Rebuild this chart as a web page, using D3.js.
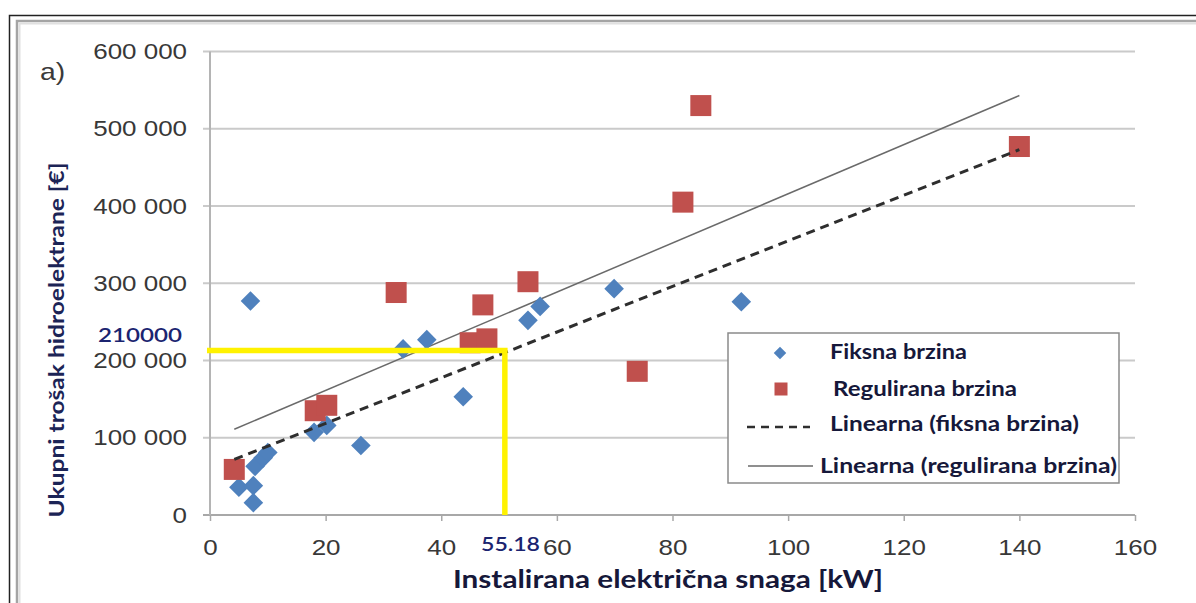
<!DOCTYPE html>
<html>
<head>
<meta charset="utf-8">
<script src="https://cdn.jsdelivr.net/npm/d3@7"></script>
<style>
  body { margin: 0; background: #fff; }
  svg { display: block; }
</style>
</head>
<body>
<svg width="1196" height="603"></svg>
<script>
// Fiksna brzina (blue diamonds)
const fixedKW = [7, 5, 7.5, 7.5, 7.8, 9.2, 10, 18, 20.2, 26.1, 33.4, 37.5, 43.8, 55, 57.1, 69.9, 91.9];
const fixedCost = [277000, 36000, 38000, 16000, 63000, 74000, 81000, 107000, 116000, 90000, 215000, 227000, 153000, 252000, 270000, 293000, 276000];
// Regulirana brzina (red squares)
const regKW = [4.2, 18.2, 20.2, 32.2, 45, 47.2, 47.9, 55, 73.9, 81.8, 84.9, 140];
const regCost = [59000, 135000, 142000, 288000, 223000, 272000, 228000, 302000, 186000, 405000, 530000, 477000];
// trend lines, end points
const trendFixedKW = [4.2, 140], trendFixedCost = [72000, 473000];
const trendRegKW = [4.2, 140], trendRegCost = [111000, 543000];
// yellow read-off marker
const markKW = 51, markCost = 213000;
const markLabels = ["55.18", "210000"];
const xTicks = [0, 20, 40, 60, 80, 100, 120, 140, 160];
const yTicks = [0, 100000, 200000, 300000, 400000, 500000, 600000];
const legendLabels = ["Fiksna brzina", "Regulirana brzina", "Linearna (fiksna brzina)", "Linearna (regulirana brzina)"];

const svg = d3.select("svg");
const SX = 1.18; // source picture is stretched sideways
const blue = "#4f81bd", red = "#c0504d", ink = "#16183a";

// frame
svg.append("rect").attr("x", 9.5).attr("y", 15.5).attr("width", 1300).attr("height", 700)
  .attr("fill", "none").attr("stroke", "#222").attr("stroke-width", 1.5);
svg.append("rect").attr("x", 17).attr("y", 21).attr("width", 1300).attr("height", 700)
  .attr("fill", "none").attr("stroke", "#a4a4a4").attr("stroke-width", 2.5);
svg.append("rect").attr("x", 19.5).attr("y", 23.5).attr("width", 1300).attr("height", 700)
  .attr("fill", "none").attr("stroke", "#e0e0e0").attr("stroke-width", 2);

const x = d3.scaleLinear().domain([0, 160]).range([210, 1135]);
const y = d3.scaleLinear().domain([0, 600000]).range([515, 51.5]);

// gridlines
svg.append("g").selectAll("line").data(yTicks).join("line")
  .attr("x1", x(0) - 7).attr("x2", x(160))
  .attr("y1", d => y(d)).attr("y2", d => y(d))
  .attr("stroke", d => d === 0 ? "#a8a8a8" : "#cacaca").attr("stroke-width", 2);
svg.append("line").attr("x1", x(0)).attr("x2", x(0)).attr("y1", y(600000)).attr("y2", y(0))
  .attr("stroke", "#b4b4b4").attr("stroke-width", 2);

const fmt = d => d3.format(",")(d).replace(/,/g, " ");

const yAxis = svg.append("g").attr("transform", `translate(${x(0)},0)`)
  .call(d3.axisLeft(y).tickValues(yTicks).tickFormat(fmt).tickSize(0).tickPadding(23));
const xAxis = svg.append("g").attr("transform", `translate(0,${y(0)})`)
  .call(d3.axisBottom(x).tickValues(xTicks).tickSize(6).tickPadding(18));

[yAxis, xAxis].forEach(a => {
  a.select(".domain").remove();
  a.selectAll(".tick line").attr("stroke", "#a8a8a8").attr("stroke-width", 1.5);
  a.selectAll("text")
    .attr("font-family", "'Liberation Sans', Arial, sans-serif")
    .attr("font-size", 22).attr("fill", "#383838")
    .each(function () {
      const t = d3.select(this);
      t.attr("x", +t.attr("x") / SX).attr("transform", `scale(${SX},1)`);
    });
});

// "a)"
svg.append("text").attr("transform", `translate(40,80) scale(${SX},1)`)
  .attr("font-family", "'Liberation Sans', Arial, sans-serif").attr("font-size", 24)
  .attr("fill", "#3a3a3a").text("a)");

// axis titles
svg.append("text").attr("transform", "translate(64,340) rotate(-90)")
  .attr("text-anchor", "middle").attr("font-family", "Lato, sans-serif").attr("font-weight", 700)
  .attr("font-size", 21).attr("fill", "#1c2456")
  .attr("textLength", 355).attr("lengthAdjust", "spacingAndGlyphs")
  .text("Ukupni trošak hidroelektrane [€]");
svg.append("text").attr("x", 668).attr("y", 588)
  .attr("text-anchor", "middle").attr("font-family", "Lato, sans-serif").attr("font-weight", 700)
  .attr("font-size", 25).attr("fill", ink)
  .attr("textLength", 430).attr("lengthAdjust", "spacingAndGlyphs")
  .text("Instalirana električna snaga [kW]");

// trend lines
const line = d3.line().x(d => x(d[0])).y(d => y(d[1]));
svg.append("path").datum(d3.zip(trendRegKW, trendRegCost)).attr("d", line)
  .attr("fill", "none").attr("stroke", "#6a6a6a").attr("stroke-width", 1.5);

// markers
const diamond = d3.symbol().type(d3.symbolDiamond2);
svg.append("g").selectAll("path").data(d3.zip(fixedKW, fixedCost)).join("path")
  .attr("d", diamond.size(245)())
  .attr("transform", d => `translate(${x(d[0])},${y(d[1])})`)
  .attr("fill", blue);
svg.append("g").selectAll("rect").data(d3.zip(regKW, regCost)).join("rect")
  .attr("x", d => x(d[0]) - 10.5).attr("y", d => y(d[1]) - 10.5)
  .attr("width", 21).attr("height", 21).attr("fill", red);

svg.append("path").datum(d3.zip(trendFixedKW, trendFixedCost)).attr("d", line)
  .attr("fill", "none").attr("stroke", "#2e2e2e").attr("stroke-width", 3)
  .attr("stroke-dasharray", "9,6");

// yellow read-off lines
svg.append("path")
  .attr("d", `M${x(0) - 3},${y(markCost)}H${x(markKW)}V${y(0)}`)
  .attr("fill", "none").attr("stroke", "#fff200").attr("stroke-width", 5.5);
svg.append("text").attr("x", 98).attr("y", 342)
  .attr("font-family", "Lato, sans-serif").attr("font-weight", 600).attr("font-size", 19)
  .attr("fill", "#1b2470").attr("textLength", 84).attr("lengthAdjust", "spacingAndGlyphs")
  .text(markLabels[1]);
svg.append("text").attr("x", 481).attr("y", 551)
  .attr("font-family", "Lato, sans-serif").attr("font-weight", 600).attr("font-size", 19)
  .attr("fill", "#1b2470").attr("textLength", 59).attr("lengthAdjust", "spacingAndGlyphs")
  .text(markLabels[0]);

// legend
const lg = svg.append("g");
lg.append("rect").attr("x", 728).attr("y", 333).attr("width", 391).attr("height", 150)
  .attr("fill", "#fff").attr("stroke", "#8a8a8a").attr("stroke-width", 1.5);
lg.append("path").attr("d", d3.symbol().type(d3.symbolDiamond2).size(100)())
  .attr("transform", "translate(780,353)").attr("fill", blue);
lg.append("rect").attr("x", 774.5).attr("y", 382.5).attr("width", 13).attr("height", 13).attr("fill", red);
lg.append("line").attr("x1", 747).attr("x2", 810).attr("y1", 427).attr("y2", 427)
  .attr("stroke", "#2e2e2e").attr("stroke-width", 2.5).attr("stroke-dasharray", "8,6");
lg.append("line").attr("x1", 748).attr("x2", 813).attr("y1", 466).attr("y2", 466)
  .attr("stroke", "#6a6a6a").attr("stroke-width", 1.5);
const lgPos = [[830, 359, 137], [833, 396, 184], [830, 431, 249], [820, 473, 297]];
lg.selectAll("text").data(legendLabels).join("text")
  .attr("x", (d, i) => lgPos[i][0]).attr("y", (d, i) => lgPos[i][1])
  .attr("textLength", (d, i) => lgPos[i][2]).attr("lengthAdjust", "spacingAndGlyphs")
  .attr("font-family", "Lato, sans-serif").attr("font-weight", 700).attr("font-size", 20)
  .attr("fill", ink).text(d => d);
</script>
</body>
</html>
